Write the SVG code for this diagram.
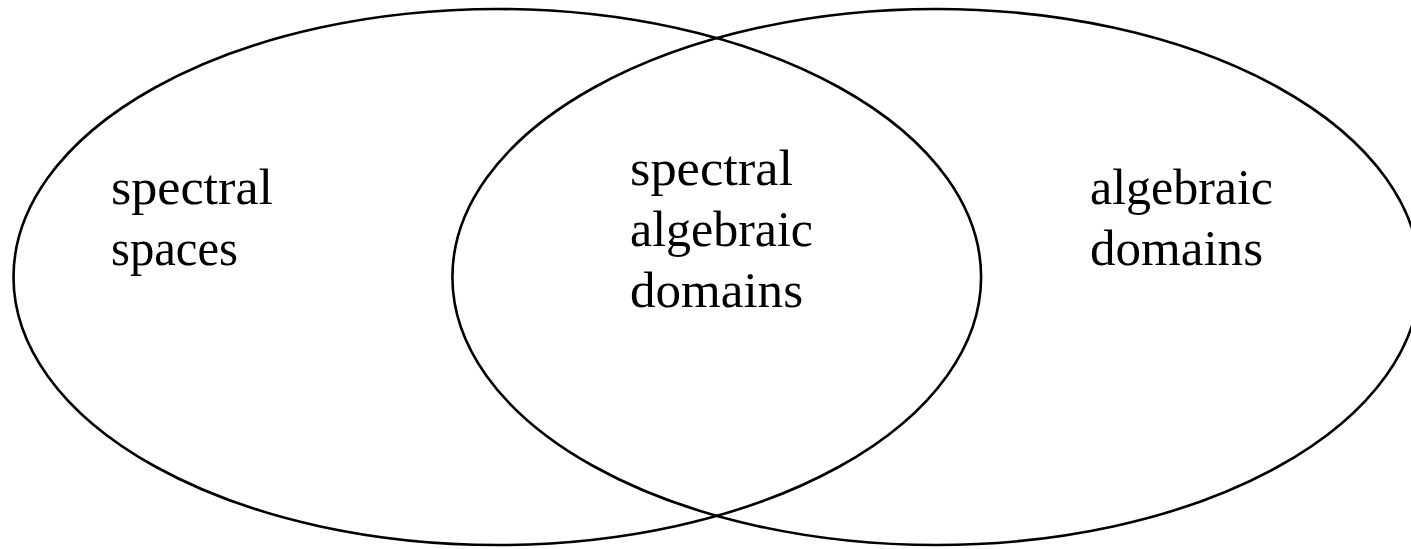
<svg xmlns="http://www.w3.org/2000/svg" width="1411" height="549" viewBox="0 0 1411 549">
<style>
.set{fill:none;stroke:#000;stroke-width:2.6}
.lbl{font-family:"Liberation Serif","DejaVu Serif",serif;font-size:50px;fill:#000}
</style>
<rect width="1411" height="549" fill="#fff"/>
<g id="left-set"><ellipse class="set" cx="497.3" cy="277" rx="483.8" ry="268"/></g>
<g id="right-set"><ellipse class="set" cx="936.2" cy="277" rx="483.8" ry="268"/></g>
<g id="connectors"/>
<g id="label-left">
<text class="lbl" x="111" y="204" textLength="162" lengthAdjust="spacingAndGlyphs">spectral</text>
<text class="lbl" x="111" y="265" textLength="127" lengthAdjust="spacingAndGlyphs">spaces</text>
</g>
<g id="label-middle">
<text class="lbl" x="630" y="185" textLength="163" lengthAdjust="spacingAndGlyphs">spectral</text>
<text class="lbl" x="630" y="246" textLength="183" lengthAdjust="spacingAndGlyphs">algebraic</text>
<text class="lbl" x="630" y="307" textLength="173" lengthAdjust="spacingAndGlyphs">domains</text>
</g>
<g id="label-right">
<text class="lbl" x="1090" y="204" textLength="183" lengthAdjust="spacingAndGlyphs">algebraic</text>
<text class="lbl" x="1090" y="265" textLength="173" lengthAdjust="spacingAndGlyphs">domains</text>
</g>
</svg>
